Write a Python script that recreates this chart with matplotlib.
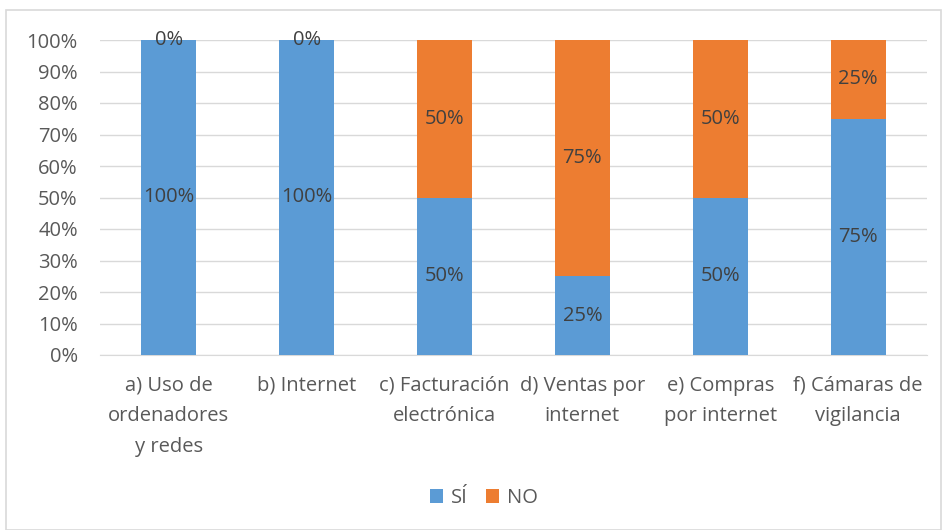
import matplotlib
matplotlib.use("Agg")
import matplotlib.pyplot as plt
from matplotlib.patches import Rectangle

categories = ["a) Uso de\nordenadores\ny redes", "b) Internet", "c) Facturación\nelectrónica",
              "d) Ventas por\ninternet", "e) Compras\npor internet", "f) Cámaras de\nvigilancia"]
si = [100, 100, 50, 25, 50, 75]
no = [0, 0, 50, 75, 50, 25]
yticks = [0, 10, 20, 30, 40, 50, 60, 70, 80, 90, 100]

BLUE = "#5B9BD5"
ORANGE = "#ED7D31"
TXT = "#595959"
FS = 14.5

plt.rcParams["font.family"] = ["Open Sans", "DejaVu Sans"]

fig = plt.figure(figsize=(9.42, 5.30), dpi=100)
fig.patches.append(Rectangle((6/942, 0), 1 - 6/942 - 0.001, 1 - 10/530, transform=fig.transFigure,
                             fill=False, edgecolor="#D9D9D9", linewidth=1.2))
ax = fig.add_axes([100/942, 1 - 355/530, 827/942, 315/530])

x = list(range(len(categories)))
b1 = ax.bar(x, si, width=0.4, color=BLUE, zorder=3, label="SÍ")
b2 = ax.bar(x, no, width=0.4, bottom=si, color=ORANGE, zorder=3, label="NO")

for i in x:
    ax.text(i, si[i] / 2, f"{si[i]}%", ha="center", va="center", fontsize=FS, color="#404040", zorder=4)
    ax.text(i, si[i] + no[i] / 2, f"{no[i]}%", ha="center", va="center", fontsize=FS, color="#404040", zorder=4)

ax.set_xlim(-0.5, len(categories) - 0.5)
ax.set_ylim(0, 100)
ax.set_yticks(yticks)
ax.set_yticklabels([f"{v}%" for v in yticks])
ax.set_xticks(x)
ax.set_xticklabels(categories, linespacing=1.7)
ax.tick_params(axis="both", length=0, labelsize=FS, colors=TXT)
ax.tick_params(axis="y", pad=16)
ax.tick_params(axis="x", pad=15)
ax.grid(axis="y", color="#D9D9D9", linewidth=1, zorder=0)
for s in ["top", "right", "left"]:
    ax.spines[s].set_visible(False)
ax.spines["bottom"].set_color("#D9D9D9")

fig.legend(handles=[b1, b2], loc="center", bbox_to_anchor=(484/942, 1 - 498/530), ncol=2, frameon=False,
           fontsize=FS, labelcolor=TXT, handlelength=0.65, handleheight=0.65, handletextpad=0.4,
           columnspacing=0.9)

fig.savefig("out.png", dpi=100)
